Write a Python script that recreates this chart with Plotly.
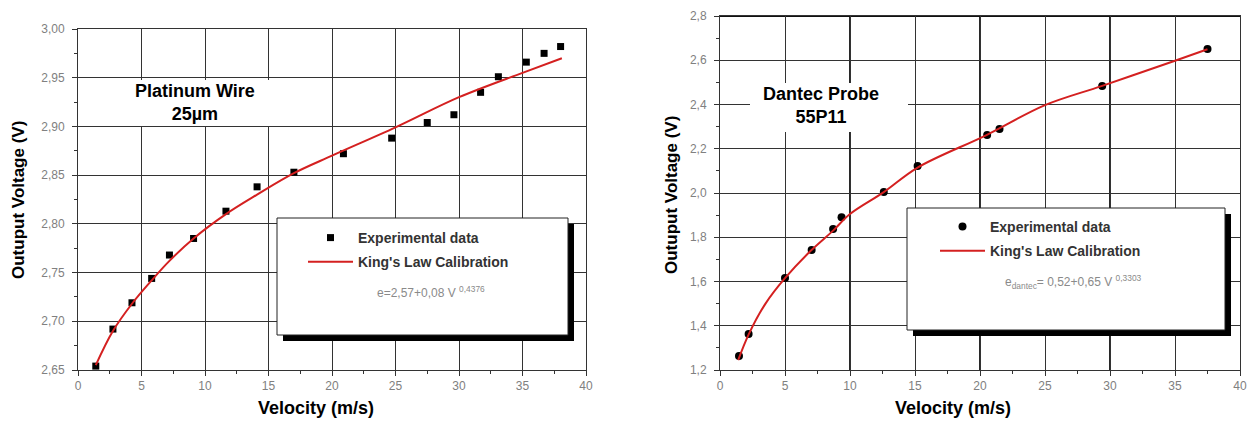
import plotly.graph_objects as go

W, H = 1250, 425

# ---------------- data ----------------
# Left: Platinum wire 25 µm
pt_vel = [1.4, 2.75, 4.25, 5.8, 7.2, 9.1, 11.65, 14.1, 17.0, 20.9, 24.7, 27.5,
          29.6, 31.7, 33.1, 35.3, 36.7, 38.0]
pt_volt = [2.654, 2.692, 2.719, 2.744, 2.768, 2.785, 2.813, 2.838, 2.853, 2.872,
           2.888, 2.904, 2.912, 2.935, 2.951, 2.966, 2.975, 2.982]
pt_fit_vel = [1.4, 2.75, 4.25, 5.8, 7.2, 9.1, 11.65, 14.1, 17.0, 20.0, 25.0,
              30.0, 35.0, 38.1]
pt_fit_volt = [2.655, 2.690, 2.718, 2.742, 2.762, 2.785, 2.810, 2.830, 2.852,
               2.870, 2.899, 2.930, 2.955, 2.970]

# Right: Dantec probe 55P11
dp_vel = [1.46, 2.2, 5.0, 7.05, 8.7, 9.35, 12.6, 15.2, 20.55, 21.5, 29.4, 37.5]
dp_volt = [1.263, 1.363, 1.616, 1.742, 1.837, 1.89, 2.004, 2.122, 2.262, 2.289,
           2.484, 2.651]
dp_fit_vel = [1.4, 2.2, 3.5, 5.0, 7.0, 8.7, 10.0, 12.6, 15.2, 20.5, 25.0, 29.4,
              35.0, 37.5]
dp_fit_volt = [1.245, 1.36, 1.50, 1.615, 1.74, 1.83, 1.905, 2.004, 2.115, 2.262,
               2.397, 2.484, 2.598, 2.65]

x_ticks = [0, 5, 10, 15, 20, 25, 30, 35, 40]
left_y_ticks = [2.65, 2.70, 2.75, 2.80, 2.85, 2.90, 2.95, 3.00]
right_y_ticks = [1.2, 1.4, 1.6, 1.8, 2.0, 2.2, 2.4, 2.6, 2.8]

# ---------------- helpers ----------------
def px(x):
    return x / W

def py(y):
    return 1 - y / H

FONT = "Arial, Liberation Sans, sans-serif"
GRID = "#333333"
RED = "#d42020"

fig = go.Figure()

fig.add_trace(go.Scatter(x=pt_vel, y=pt_volt, mode="markers", name="Experimental data",
                         marker=dict(symbol="square", size=7, color="black"),
                         xaxis="x", yaxis="y", legend="legend", legendgroup="a"))
fig.add_trace(go.Scatter(x=pt_fit_vel, y=pt_fit_volt, mode="lines", name="King's Law Calibration",
                         line=dict(color=RED, width=2, shape="spline"),
                         xaxis="x", yaxis="y", legend="legend", legendgroup="b"))
fig.add_trace(go.Scatter(x=dp_vel, y=dp_volt, mode="markers", name="Experimental data",
                         marker=dict(symbol="circle", size=8, color="black"),
                         xaxis="x2", yaxis="y2", legend="legend2", legendgroup="c"))
fig.add_trace(go.Scatter(x=dp_fit_vel, y=dp_fit_volt, mode="lines", name="King's Law Calibration",
                         line=dict(color=RED, width=2, shape="spline"),
                         xaxis="x2", yaxis="y2", legend="legend2", legendgroup="d"))

axis_common = dict(showgrid=True, gridcolor=GRID, gridwidth=1, showline=True,
                   linecolor=GRID, linewidth=1, mirror=True, ticks="outside",
                   ticklen=5, tickcolor=GRID, zeroline=False, automargin=False,
                   tickfont=dict(family=FONT, size=12, color="#808080"))

legend_font = dict(family=FONT, size=14, color="#333333", weight="bold")

fig.update_layout(
    width=W, height=H, margin=dict(l=0, r=0, t=0, b=0),
    paper_bgcolor="white", plot_bgcolor="white",
    separators=",.",
    font=dict(family=FONT),
    xaxis=dict(domain=[px(78), px(586)], range=[0, 40], tickvals=x_ticks,
               anchor="y", minor=dict(dtick=2.5, ticklen=3, ticks="outside", tickcolor=GRID, showgrid=False),
               **axis_common),
    yaxis=dict(domain=[py(370), py(29)], range=[2.65, 3.0], tickvals=left_y_ticks,
               tickformat=".2f", anchor="x", ticklabelstandoff=5,
               minor=dict(dtick=0.025, ticklen=3, ticks="outside", tickcolor=GRID, showgrid=False),
               **axis_common),
    xaxis2=dict(domain=[px(720), px(1240)], range=[0, 40], tickvals=x_ticks,
                anchor="y2", minor=dict(dtick=2.5, ticklen=3, ticks="outside", tickcolor=GRID, showgrid=False),
                **axis_common),
    yaxis2=dict(domain=[py(370), py(16)], range=[1.2, 2.8], tickvals=right_y_ticks,
                tickformat=".1f", anchor="x2", ticklabelstandoff=5,
                minor=dict(dtick=0.1, ticklen=3, ticks="outside", tickcolor=GRID, showgrid=False),
                **axis_common),
    legend=dict(x=px(303), y=py(222), xanchor="left", yanchor="top",
                bgcolor="rgba(0,0,0,0)", borderwidth=0, itemwidth=45,
                traceorder="grouped", tracegroupgap=3, font=legend_font),
    legend2=dict(x=px(935), y=py(211), xanchor="left", yanchor="top",
                 bgcolor="rgba(0,0,0,0)", borderwidth=0, itemwidth=45,
                 traceorder="grouped", tracegroupgap=3, font=legend_font),
    showlegend=True,
)

shapes = []
# thicker grid lines on the right chart
for xv in [10, 20, 30]:
    shapes.append(dict(type="line", xref="x2", yref="paper", x0=xv, x1=xv, y0=py(370), y1=py(16),
                       line=dict(color="#111111", width=1.8), layer="below"))
shapes.append(dict(type="line", xref="paper", yref="y2", x0=px(720), x1=px(1240), y0=2.8, y1=2.8,
                   line=dict(color="#111111", width=2), layer="below"))

# white boxes behind the chart titles
shapes.append(dict(type="rect", xref="paper", yref="paper", x0=px(110), x1=px(290),
                   y0=py(126), y1=py(80), fillcolor="white", line=dict(width=0), layer="above"))
shapes.append(dict(type="rect", xref="paper", yref="paper", x0=px(750), x1=px(908),
                   y0=py(132), y1=py(83), fillcolor="white", line=dict(width=0), layer="above"))

# legend boxes with drop shadow
for (x0, y0, x1, y1) in [(277, 218, 568, 335), (907, 208, 1225, 330)]:
    shapes.append(dict(type="rect", xref="paper", yref="paper", x0=px(x0 + 6), x1=px(x1 + 6),
                       y0=py(y1 + 6), y1=py(y0 + 6), fillcolor="black", line=dict(width=0), layer="above"))
    shapes.append(dict(type="rect", xref="paper", yref="paper", x0=px(x0), x1=px(x1),
                       y0=py(y1), y1=py(y0), fillcolor="white", line=dict(color="#222222", width=1), layer="above"))
fig.update_layout(shapes=shapes)

ann = []
def text(x, y, s, size=16, color="black", bold=True, angle=0, xanchor="center"):
    ann.append(dict(x=px(x), y=py(y), xref="paper", yref="paper", text=s, showarrow=False,
                    xanchor=xanchor, yanchor="middle", textangle=angle,
                    font=dict(family=FONT, size=size, color=color, weight="bold" if bold else "normal")))

text(195, 103, "Platinum Wire<br>25µm", size=18)
text(821, 105, "Dantec Probe<br>55P11", size=18)
text(316, 408, "Velocity (m/s)", size=18)
text(953, 408, "Velocity (m/s)", size=18)
text(18, 200, "Outuput Voltage (V)", size=17, angle=-90)
text(672, 195, "Outuput Voltage (V)", size=17, angle=-90)
text(375, 292, "e=2,57+0,08 V <sup>0,4376</sup>", size=12, color="#8a8a8a", bold=False, xanchor="left")
text(1003, 282, "e<sub>dantec</sub>= 0,52+0,65 V <sup>0,3303</sup>", size=12, color="#8a8a8a", bold=False, xanchor="left")
fig.update_layout(annotations=ann)

fig.write_html("out.html", config={"displayModeBar": False},
               post_script="document.body.style.margin='0';document.body.style.padding='0';")
